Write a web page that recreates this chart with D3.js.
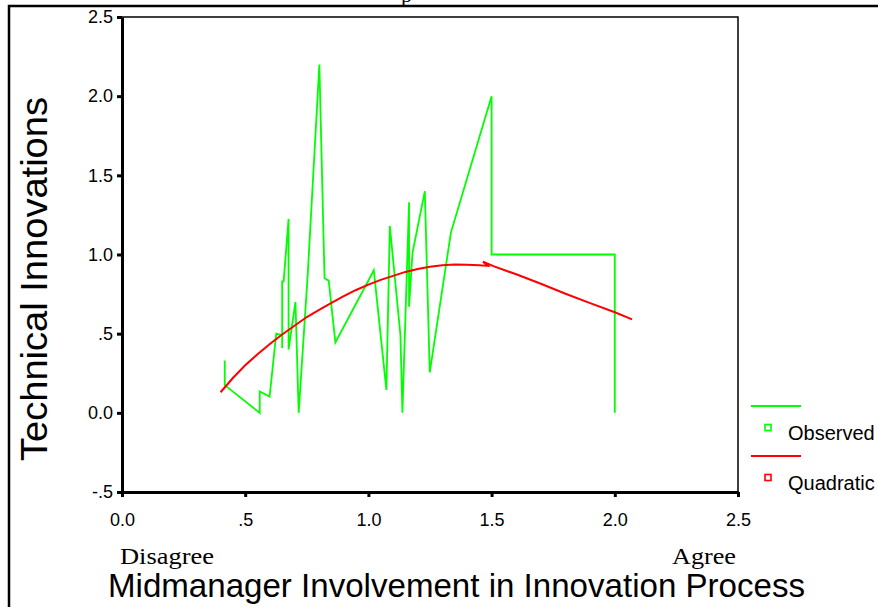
<!DOCTYPE html>
<html>
<head>
<meta charset="utf-8">
<script src="https://cdn.jsdelivr.net/npm/d3@7"></script>
<style>
body { margin: 0; background: #fff; }
svg { display: block; }
</style>
</head>
<body>
<div id="vis"></div>
<script>
// setting up the basics
const FRAME_WIDTH = 878;
const FRAME_HEIGHT = 607;
const PLOT = {left: 122, right: 738, top: 17, bottom: 492};
const SANS = '"Liberation Sans", Arial, sans-serif';
const SERIF = '"Liberation Serif", "Times New Roman", serif';

// observed means, in the order the line visits them
const OBS_X = [0.417, 0.417, 0.559, 0.559, 0.599, 0.626, 0.650, 0.650, 0.650, 0.656,
               0.676, 0.676, 0.704, 0.717, 0.754, 0.801, 0.822, 0.839, 0.866, 1.022,
               1.073, 1.087, 1.130, 1.138, 1.165, 1.165, 1.179, 1.229, 1.249, 1.335,
               1.5, 1.5, 2.0, 2.0];
const OBS_Y = [0.33, 0.175, 0.0, 0.135, 0.103, 0.50, 0.49, 0.41, 0.83, 0.83,
               1.225, 0.40, 0.70, 0.0, 0.88, 2.20, 0.85, 0.835, 0.445, 0.90,
               0.145, 1.18, 0.49, 0.0, 1.33, 0.67, 1.01, 1.40, 0.255, 1.14,
               2.0, 1.0, 1.0, 0.0];

// quadratic fit as drawn
const FIT_X = [0.40, 0.45, 0.50, 0.55, 0.60, 0.65, 0.70, 0.75, 0.80, 0.85,
               0.90, 0.95, 1.00, 1.05, 1.10, 1.15, 1.20, 1.25, 1.30, 1.35,
               1.40, 1.45, 1.485, 1.465, 1.51, 1.60, 1.70, 1.80, 1.90, 2.00, 2.07];
const FIT_Y = [0.13, 0.22, 0.30, 0.37, 0.435, 0.495, 0.55, 0.605, 0.65, 0.695,
               0.737, 0.776, 0.81, 0.84, 0.865, 0.89, 0.908, 0.922, 0.932, 0.937,
               0.936, 0.932, 0.928, 0.955, 0.925, 0.875, 0.815, 0.752, 0.693, 0.635, 0.59];

const X_TICKS = [0, 0.5, 1, 1.5, 2, 2.5];
const X_TICK_LABELS = ['0.0', '.5', '1.0', '1.5', '2.0', '2.5'];
const Y_TICKS = [-0.5, 0, 0.5, 1, 1.5, 2, 2.5];
const Y_TICK_LABELS = ['-.5', '0.0', '.5', '1.0', '1.5', '2.0', '2.5'];
const LEGEND_LABELS = ['Observed', 'Quadratic'];
const LEGEND_COLORS = ['#00ff00', '#ff0000'];

const FRAME = d3.select('#vis')
    .append('svg')
        .attr('width', FRAME_WIDTH)
        .attr('height', FRAME_HEIGHT);

// scales
const X_SCALE = d3.scaleLinear()
    .domain([0, 2.5])
    .range([PLOT.left, PLOT.right]);
const Y_SCALE = d3.scaleLinear()
    .domain([-0.5, 2.5])
    .range([PLOT.bottom, PLOT.top]);

// outer page frame and the clipped title
FRAME.append('path')
    .attr('d', 'M9,607 V6 H878')
    .attr('fill', 'none')
    .attr('stroke', '#000')
    .attr('stroke-width', 2.5);
FRAME.append('text')
    .attr('x', 401).attr('y', 2)
    .attr('font-family', SERIF)
    .attr('font-size', 22)
    .text('p');

// thin top and right edges of the plot box
FRAME.append('path')
    .attr('d', `M${PLOT.left},${PLOT.top} H${PLOT.right} V${PLOT.bottom}`)
    .attr('fill', 'none')
    .attr('stroke', '#000')
    .attr('stroke-width', 1.5);

// lines
const obs = OBS_X.map((x, i) => [x, OBS_Y[i]]);
const fit = FIT_X.map((x, i) => [x, FIT_Y[i]]);
const line = d3.line().x(d => X_SCALE(d[0])).y(d => Y_SCALE(d[1]));

FRAME.append('path')
    .datum(obs)
    .attr('d', line)
    .attr('fill', 'none')
    .attr('stroke', LEGEND_COLORS[0])
    .attr('stroke-width', 1.8);

FRAME.append('path')
    .datum(fit)
    .attr('d', line)
    .attr('fill', 'none')
    .attr('stroke', LEGEND_COLORS[1])
    .attr('stroke-width', 2);

// add y axis
const yAxis = FRAME.append('g')
    .attr('transform', 'translate(' + PLOT.left + ',0)')
    .call(d3.axisLeft(Y_SCALE)
        .tickValues(Y_TICKS)
        .tickFormat((d, i) => Y_TICK_LABELS[i])
        .tickSize(5)
        .tickSizeOuter(0)
        .tickPadding(4))
    .attr('font-family', SANS)
    .attr('font-size', 18);

// add x axis
const xAxis = FRAME.append('g')
    .attr('transform', 'translate(0,' + PLOT.bottom + ')')
    .call(d3.axisBottom(X_SCALE)
        .tickValues(X_TICKS)
        .tickFormat((d, i) => X_TICK_LABELS[i])
        .tickSize(5)
        .tickSizeOuter(0)
        .tickPadding(16))
    .attr('font-family', SANS)
    .attr('font-size', 18);

[xAxis, yAxis].forEach(g => {
    g.select('.domain').attr('stroke-width', 3);
    g.selectAll('.tick line').attr('stroke-width', 3);
    g.selectAll('.tick text').attr('fill', '#000');
});

// axis titles
FRAME.append('text')
    .attr('x', 120).attr('y', 564)
    .attr('font-family', SERIF)
    .attr('font-size', 24)
    .attr('textLength', 94)
    .attr('lengthAdjust', 'spacingAndGlyphs')
    .text('Disagree');
FRAME.append('text')
    .attr('x', 672).attr('y', 564)
    .attr('font-family', SERIF)
    .attr('font-size', 24)
    .attr('textLength', 64)
    .attr('lengthAdjust', 'spacingAndGlyphs')
    .text('Agree');

FRAME.append('text')
    .attr('x', 108).attr('y', 597)
    .attr('font-family', SANS)
    .attr('font-size', 33)
    .attr('textLength', 697)
    .attr('lengthAdjust', 'spacingAndGlyphs')
    .text('Midmanager Involvement in Innovation Process');

FRAME.append('text')
    .attr('transform', 'translate(47,279) rotate(-90)')
    .attr('text-anchor', 'middle')
    .attr('font-family', SANS)
    .attr('font-size', 36)
    .attr('textLength', 364)
    .attr('lengthAdjust', 'spacingAndGlyphs')
    .text('Technical Innovations');

// legend
const legend = FRAME.selectAll('.legend')
    .data(LEGEND_LABELS)
    .enter()
    .append('g')
    .attr('class', 'legend')
    .attr('transform', (d, i) => 'translate(751,' + (406 + i * 50) + ')');

legend.append('line')
    .attr('x1', 0).attr('x2', 50)
    .attr('y1', 0).attr('y2', 0)
    .attr('stroke', (d, i) => LEGEND_COLORS[i])
    .attr('stroke-width', 2);
legend.append('rect')
    .attr('x', 14).attr('y', 18.5)
    .attr('width', 6).attr('height', 6)
    .attr('fill', 'none')
    .attr('stroke', (d, i) => LEGEND_COLORS[i])
    .attr('stroke-width', 1.6);
legend.append('text')
    .attr('x', 37).attr('y', 34)
    .attr('font-family', SANS)
    .attr('font-size', 20)
    .text(d => d);
</script>
</body>
</html>
